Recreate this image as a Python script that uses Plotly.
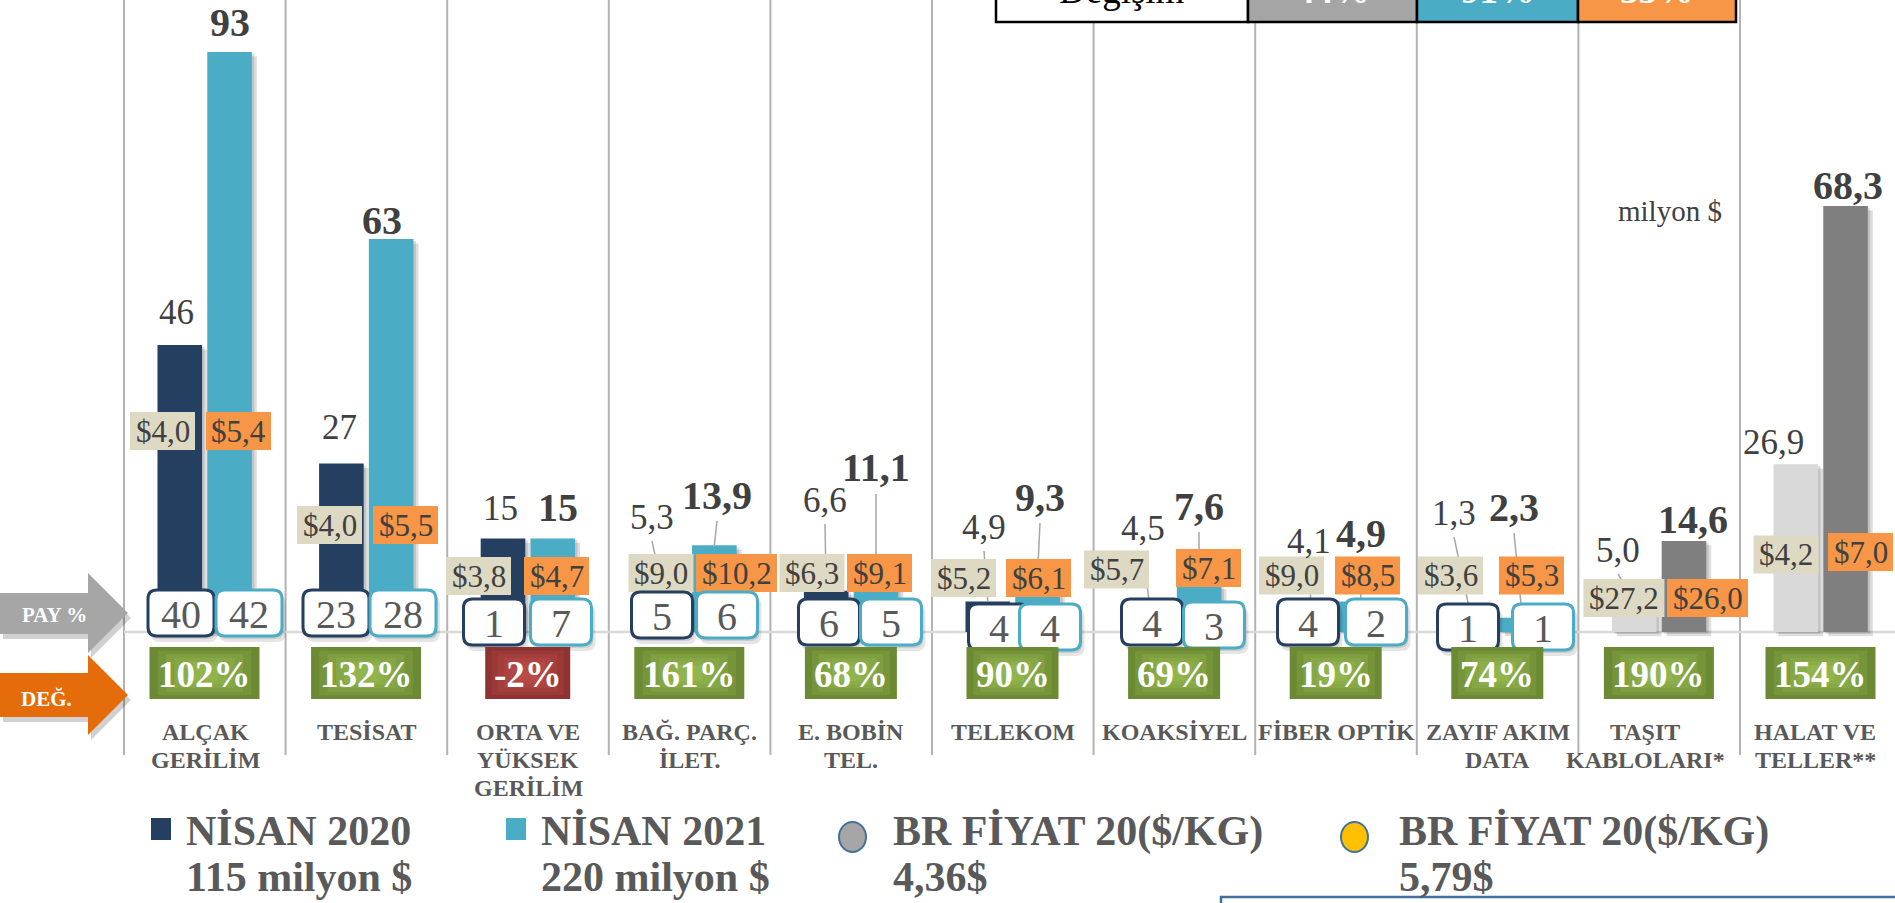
import plotly.graph_objects as go

# ---------------- data ----------------
categories = ["ALÇAK GERİLİM", "TESİSAT", "ORTA VE YÜKSEK GERİLİM", "BAĞ. PARÇ. İLET.",
              "E. BOBİN TEL.", "TELEKOM", "KOAKSİYEL", "FİBER OPTİK", "ZAYIF AKIM DATA",
              "TAŞIT KABLOLARI*", "HALAT VE TELLER**"]
category_lines = [["ALÇAK", "GERİLİM"], ["TESİSAT"], ["ORTA VE", "YÜKSEK", "GERİLİM"],
                  ["BAĞ. PARÇ.", "İLET."], ["E. BOBİN", "TEL."], ["TELEKOM"], ["KOAKSİYEL"],
                  ["FİBER OPTİK"], ["ZAYIF AKIM", "DATA"], ["TAŞIT", "KABLOLARI*"], ["HALAT VE", "TELLER**"]]
nisan_2020 = [46, 27, 15, 5.3, 6.6, 4.9, 4.5, 4.1, 1.3, 5.0, 26.9]
nisan_2021 = [93, 63, 15, 13.9, 11.1, 9.3, 7.6, 4.9, 2.3, 14.6, 68.3]
price_2020 = [4.0, 4.0, 3.8, 9.0, 6.3, 5.2, 5.7, 9.0, 3.6, 27.2, 4.2]
price_2021 = [5.4, 5.5, 4.7, 10.2, 9.1, 6.1, 7.1, 8.5, 5.3, 26.0, 7.0]
share_2020 = [40, 23, 1, 5, 6, 4, 4, 4, 1, None, None]
share_2021 = [42, 28, 7, 6, 5, 4, 3, 2, 1, None, None]
change_pct = [102, 132, -2, 161, 68, 90, 69, 19, 74, 190, 154]
legend_names = ["NİSAN 2020", "NİSAN 2021", "BR FİYAT 20($/KG)", "BR FİYAT 20($/KG)"]
legend_values = ["115 milyon $", "220 milyon $", "4,36$", "5,79$"]
table_header = ["Değişim", "44%", "91%", "33%"]
unit_label = "milyon $"

# ---------------- layout / style (pixels) ----------------
W, H = 1895, 903
CAT_X0, CAT_W = 205.0, 161.6
BASE_Y, PX_PER_UNIT = 632.0, 6.237
BAR_W, OFF20, OFF21 = 0.276, -0.294, 0.014
FONT = "Liberation Serif"
NAVY, BLUE, LGRAY, DGRAY = "#243F60", "#4BACC6", "#D9D9D9", "#7F7F7F"
BEIGE, ORANGE, TXT, TXT2 = "#DDD9C3", "#F79646", "#404040", "#595959"
col20 = [NAVY] * 9 + [LGRAY] * 2
col21 = [BLUE] * 9 + [DGRAY] * 2

lbl20_pos = [(176, 312), (339, 428), (500, 508), (652, 517), (825, 500), (984, 527), (1143, 528),
             (1309, 541), (1454, 513), (1618, 550), (1773, 443)]
lbl21_pos = [(230, 22), (382, 220), (558, 507), (717, 495), (876, 468), (1040, 497), (1199, 506),
             (1361, 533), (1514, 507), (1693, 519), (1848, 185)]
leader20 = [False, False, False, True, True, True, True, True, True, True, False]
leader21 = [False, False, False, True, True, True, True, True, True, False, False]
pr20_pos = [(162.5, 431), (329.5, 525), (478.5, 576), (661, 573), (812, 573), (963.5, 578),
            (1116.5, 569.5), (1291.5, 575.5), (1450.5, 575.5), (1624, 598), (1786, 554.5)]
pr21_pos = [(238.5, 431), (405.5, 525), (556.5, 576), (736.5, 573), (879.5, 573), (1038.5, 578),
            (1208.5, 568), (1367.5, 575.5), (1531.5, 575.5), (1707.5, 598), (1860.5, 552)]
pay20_pos = [(181, 613), (336, 613), (494, 622), (662, 615), (829, 622), (999, 627), (1152, 622),
             (1308, 622), (1468, 627)]
pay21_pos = [(249, 613), (403, 613), (561, 622), (727, 615), (891, 622), (1050, 627), (1214, 625),
             (1376, 622), (1543, 627)]
cat_label_shift = [0, 0, 0, 0, 0, 0, 0, 0, 0, -14, -6]


def fx(px):
    return px / W


def fy(py):
    return 1 - py / H


def cat_px(i):
    return CAT_X0 + CAT_W * i


def fmt(v):
    return str(v) if isinstance(v, int) else f"{v:.1f}".replace(".", ",")


shapes = []
annotations = []


def rect(x0, y0, x1, y1, fill, line=None, lw=0, layer="above"):
    shapes.append(dict(type="rect", xref="paper", yref="paper", x0=fx(x0), x1=fx(x1),
                       y0=fy(y1), y1=fy(y0), fillcolor=fill, layer=layer,
                       line=dict(color=line or fill, width=lw)))


def rrect(x0, y0, x1, y1, r, fill, line=None, lw=0):
    pts = [("M", x0 + r, y0), ("L", x1 - r, y0), ("Q", x1, y0, x1, y0 + r), ("L", x1, y1 - r),
           ("Q", x1, y1, x1 - r, y1), ("L", x0 + r, y1), ("Q", x0, y1, x0, y1 - r),
           ("L", x0, y0 + r), ("Q", x0, y0, x0 + r, y0)]
    p = ""
    for seg in pts:
        cmd = seg[0]
        coords = seg[1:]
        parts = []
        for k in range(0, len(coords), 2):
            parts.append(f"{fx(coords[k]):.6f},{fy(coords[k + 1]):.6f}")
        p += cmd + " ".join(parts) + " "
    p += "Z"
    shapes.append(dict(type="path", xref="paper", yref="paper", path=p, fillcolor=fill,
                       line=dict(color=line or fill, width=lw), layer="above"))


def poly(points, fill):
    p = "M" + " L".join(f"{fx(a):.6f},{fy(b):.6f}" for a, b in points) + " Z"
    shapes.append(dict(type="path", xref="paper", yref="paper", path=p, fillcolor=fill,
                       line=dict(width=0), layer="above"))


def line(x0, y0, x1, y1, color, w, layer="above"):
    shapes.append(dict(type="line", xref="paper", yref="paper", x0=fx(x0), x1=fx(x1),
                       y0=fy(y0), y1=fy(y1), line=dict(color=color, width=w), layer=layer))


def text(x, y, s, size, color=TXT, bold=False, xanchor="center"):
    if bold:
        s = "<b>" + s + "</b>"
    annotations.append(dict(x=fx(x), y=fy(y), xref="paper", yref="paper", text=s,
                            showarrow=False, xanchor=xanchor, yanchor="middle",
                            font=dict(family=FONT, size=size, color=color)))


# ---------------- bars ----------------
xs = list(range(len(categories)))
fig = go.Figure()
for vals, off in ((nisan_2020, OFF20), (nisan_2021, OFF21)):
    fig.add_trace(go.Bar(x=xs, y=vals, base=-0.7, width=BAR_W, offset=off + 5 / CAT_W,
                         marker=dict(color="rgba(0,0,0,0.13)", line=dict(width=0)),
                         hoverinfo="skip", showlegend=False))
    fig.add_trace(go.Bar(x=xs, y=vals, base=-0.3, width=BAR_W, offset=off + 2.5 / CAT_W,
                         marker=dict(color="rgba(0,0,0,0.12)", line=dict(width=0)),
                         hoverinfo="skip", showlegend=False))
fig.add_trace(go.Bar(x=xs, y=nisan_2020, width=BAR_W, offset=OFF20, name="NİSAN 2020",
                     marker=dict(color=col20, line=dict(width=0)), showlegend=False))
fig.add_trace(go.Bar(x=xs, y=nisan_2021, width=BAR_W, offset=OFF21, name="NİSAN 2021",
                     marker=dict(color=col21, line=dict(width=0)), showlegend=False))

# ---------------- grid / separators ----------------
for k in range(11):
    line(124 + CAT_W * k, 0, 124 + CAT_W * k, 755, "#B3B3B3", 2, layer="below")
line(124, BASE_Y, W, BASE_Y, "#D9D9D9", 2.5, layer="below")

# ---------------- leader lines ----------------
for i in range(len(categories)):
    for vals, pos, flag, off, dy in ((nisan_2020, lbl20_pos, leader20, OFF20, 24),
                                     (nisan_2021, lbl21_pos, leader21, OFF21, 26)):
        if flag[i]:
            bx = cat_px(i) + (off + BAR_W / 2) * CAT_W
            by = BASE_Y - vals[i] * PX_PER_UNIT
            line(pos[i][0], pos[i][1] + dy, bx, by, "#A6A6A6", 1.5)

# ---------------- value labels ----------------
for i in range(len(categories)):
    text(lbl20_pos[i][0], lbl20_pos[i][1], fmt(nisan_2020[i]), 35, TXT)
    text(lbl21_pos[i][0], lbl21_pos[i][1], fmt(nisan_2021[i]), 40, TXT, bold=True)

# ---------------- price boxes ----------------
for i in range(len(categories)):
    for val, pos, fill in ((price_2020[i], pr20_pos[i], BEIGE), (price_2021[i], pr21_pos[i], ORANGE)):
        s = "$" + fmt(val)
        w = 65 if len(s) <= 4 else 81
        cx, cy = pos
        rect(cx - w / 2, cy - 19, cx + w / 2, cy + 19, fill)
        text(cx, cy, s, 31, TXT)

# ---------------- share (PAY %) boxes ----------------
for i in range(len(pay20_pos)):
    for val, pos, col in ((share_2020[i], pay20_pos[i], NAVY), (share_2021[i], pay21_pos[i], BLUE)):
        cx, cy = pos
        w = 66 if val >= 10 else 61
        x0, y0, x1, y1 = cx - w / 2, cy - 23, cx + w / 2, cy + 23
        rrect(x0 + 3, y0 + 5, x1 + 4, y1 + 6, 9, "rgba(0,0,0,0.10)")
        rrect(x0 + 1, y0 + 3, x1 + 2, y1 + 3, 9, "rgba(0,0,0,0.10)")
        rrect(x0, y0, x1, y1, 9, "white", col, 3)
        text(cx, cy + 1, str(val), 40, TXT2)

# ---------------- change (DEĞ.) boxes ----------------
for i in range(len(categories)):
    s = f"{change_pct[i]}%"
    w = {3: 92, 4: 110}.get(len(s), 92)
    if change_pct[i] < 0:
        w = 85
        base, glow = "#8E3331", "rgba(215,95,90,0.16)"
    else:
        base, glow = "#6C8933", "rgba(175,210,100,0.16)"
    cx = cat_px(i) - 0.5
    x0, y0, x1, y1 = cx - w / 2, 647, cx + w / 2, 699
    rect(x0, y0, x1, y1, base)
    for k in range(1, 6):
        fxk, fyk = k * 0.075 * w, k * 0.07 * (y1 - y0)
        rect(x0 + fxk, y0 + fyk, x1 - fxk, y1 - fyk, glow)
    text(cx, 674, s, 37, "white", bold=True)

# ---------------- category labels ----------------
for i, lines in enumerate(category_lines):
    for j, ln in enumerate(lines):
        text(cat_px(i) + cat_label_shift[i], 732 + 28 * j, ln, 24, TXT2, bold=True)

# ---------------- left arrows ----------------
gray_arrow = [(0, 593), (88, 593), (88, 573), (128, 613), (88, 653), (88, 634), (0, 634)]
orange_arrow = [(0, 673), (88, 673), (88, 655), (128, 695), (88, 735), (88, 717), (0, 717)]
poly([(a + 3, b + 5) for a, b in gray_arrow], "rgba(0,0,0,0.18)")
poly(gray_arrow, "#A6A6A6")
poly([(a + 3, b + 5) for a, b in orange_arrow], "rgba(0,0,0,0.18)")
poly(orange_arrow, "#E46C0A")
text(54, 615, "PAY %", 21, "white", bold=True)
text(46, 699, "DEĞ.", 21, "white", bold=True)

# ---------------- top table ----------------
cells = [(996, 1248, "white", "black"), (1248, 1417, "#A5A5A5", "white"),
         (1417, 1578, BLUE, "white"), (1578, 1736, ORANGE, "white")]
for (x0, x1, fill, tc), lbl in zip(cells, table_header):
    rect(x0, -60, x1, 22, fill, "black", 2.5)
    text((x0 + x1) / 2, -9.5, lbl, 37, tc, bold=(tc == "white"))

# ---------------- unit label ----------------
text(1670, 211, unit_label, 29, TXT)

# ---------------- legend ----------------
rect(151, 818, 171, 840, NAVY)
rect(506, 818, 526, 840, BLUE)
shapes.append(dict(type="circle", xref="paper", yref="paper", x0=fx(839), x1=fx(866),
                   y0=fy(852), y1=fy(822), fillcolor="#A6A6A6",
                   line=dict(color="#41719C", width=2), layer="above"))
shapes.append(dict(type="circle", xref="paper", yref="paper", x0=fx(1341), x1=fx(1368),
                   y0=fy(852), y1=fy(822), fillcolor="#FFC000",
                   line=dict(color="#41719C", width=2), layer="above"))
for xl, nm, vl in zip([184, 539, 891, 1397], legend_names, legend_values):
    text(xl, 831, nm, 42, TXT2, bold=True, xanchor="left")
    text(xl, 877, vl, 42, TXT2, bold=True, xanchor="left")

# bottom-right text box edge
rect(1221, 897, 1910, 960, "white", "#41719C", 2.5)

fig.update_layout(
    width=W, height=H, autosize=False,
    margin=dict(l=0, r=0, t=0, b=0, pad=0),
    paper_bgcolor="white", plot_bgcolor="white",
    barmode="overlay", showlegend=False,
    xaxis=dict(range=[(0 - CAT_X0) / CAT_W, (W - CAT_X0) / CAT_W], visible=False, fixedrange=True),
    yaxis=dict(range=[(BASE_Y - H) / PX_PER_UNIT, BASE_Y / PX_PER_UNIT], visible=False, fixedrange=True),
    shapes=shapes, annotations=annotations,
    font=dict(family=FONT),
)

fig.write_html("out.html", config={"displayModeBar": False},
               post_script="document.body.style.margin='0';document.body.style.overflow='hidden';")
